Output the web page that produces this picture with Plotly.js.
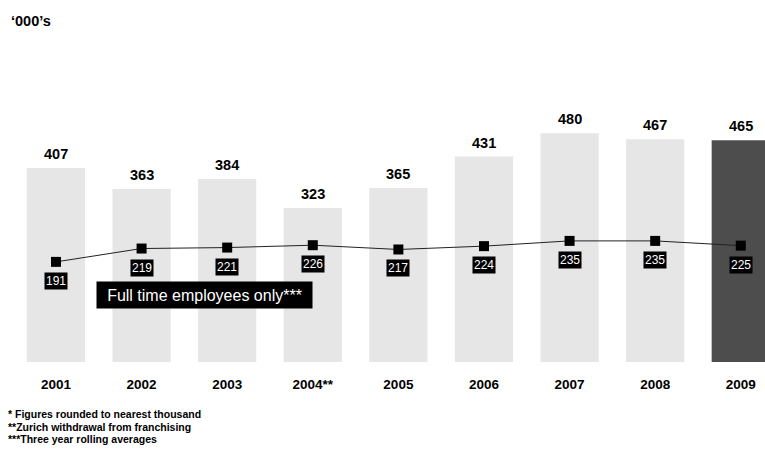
<!DOCTYPE html>
<html>
<head>
<meta charset="utf-8">
<script src="https://cdn.plot.ly/plotly-3.0.1.min.js"></script>
<style>html,body{margin:0;padding:0;background:#fff;}#chart{width:765px;height:450px;}</style>
</head>
<body>
<div id="chart"></div>
<script>
const years = ['2001','2002','2003','2004**','2005','2006','2007','2008','2009'];
const totalStaff = [407, 363, 384, 323, 365, 431, 480, 467, 465];
const fullTime = [191, 219, 221, 226, 217, 224, 235, 235, 225];
const footnotes = ['* Figures rounded to nearest thousand', '**Zurich withdrawal from franchising', '***Three year rolling averages'];
const unitLabel = "\u2018000\u2019s";
const boxLabel = 'Full time employees only***';

const xs = years.map((_, i) => i);
const barColors = years.map((_, i) => i === years.length - 1 ? '#4d4d4d' : '#e6e6e6');
const FONT = 'Arial, "Liberation Sans", sans-serif';

const bars = {
  type: 'bar', x: xs, y: totalStaff, width: 0.68,
  marker: {color: barColors, line: {width: 0}},
  hoverinfo: 'skip', showlegend: false
};
const line = {
  type: 'scatter', mode: 'lines+markers', x: xs, y: fullTime, yaxis: 'y2',
  line: {color: '#222', width: 1},
  marker: {symbol: 'square', size: 10, color: '#000'},
  hoverinfo: 'skip', showlegend: false, cliponaxis: false
};

const annotations = [];
totalStaff.forEach((v, i) => {
  annotations.push({
    x: i, y: v, xref: 'x', yref: 'y', yshift: 14, yanchor: 'middle', showarrow: false,
    text: String(v), font: {family: FONT, size: 14.5, color: '#000', weight: 'bold'}
  });
});
fullTime.forEach((v, i) => {
  annotations.push({
    x: i, y: v, xref: 'x', yref: 'y2', yshift: -19, showarrow: false,
    text: String(v), bgcolor: '#000', borderpad: 1,
    font: {family: FONT, size: 12, color: '#fff'}
  });
});
annotations.push({
  x: 1.735, y: 140.5, xref: 'x', yref: 'y', showarrow: false,
  text: boxLabel, bgcolor: '#000', width: 211, height: 22, borderpad: 2,
  font: {family: FONT, size: 16, color: '#fff'}
});
annotations.push({
  x: 9 / 765, y: (362 - 21) / 267, xref: 'paper', yref: 'paper', xanchor: 'left', yanchor: 'middle',
  showarrow: false, text: unitLabel,
  font: {family: FONT, size: 14.5, color: '#000', weight: 'bold'}
});
footnotes.forEach((t, i) => {
  annotations.push({
    x: 6 / 765, y: (362 - (414 + i * 12.5)) / 267, xref: 'paper', yref: 'paper',
    xanchor: 'left', yanchor: 'middle', showarrow: false, text: t,
    font: {family: FONT, size: 10.5, color: '#000', weight: 'bold'}
  });
});

const layout = {
  width: 765, height: 450,
  margin: {l: 0, r: 0, t: 95, b: 88, pad: 0},
  paper_bgcolor: '#fff', plot_bgcolor: '#fff',
  xaxis: {
    range: [-0.654, 8.283], tickvals: xs, ticktext: years,
    showgrid: false, zeroline: false, showline: false,
    ticks: 'outside', ticklen: 10, tickcolor: 'rgba(0,0,0,0)',
    tickfont: {family: FONT, size: 13.5, color: '#000', weight: 'bold'}
  },
  yaxis: {range: [0, 560], visible: false, showgrid: false, zeroline: false},
  yaxis2: {range: [-19, 541], overlaying: 'y', visible: false, showgrid: false, zeroline: false},
  annotations: annotations,
  bargap: 0.32
};

Plotly.newPlot('chart', [bars, line], layout, {displayModeBar: false, staticPlot: true});
</script>
</body>
</html>
